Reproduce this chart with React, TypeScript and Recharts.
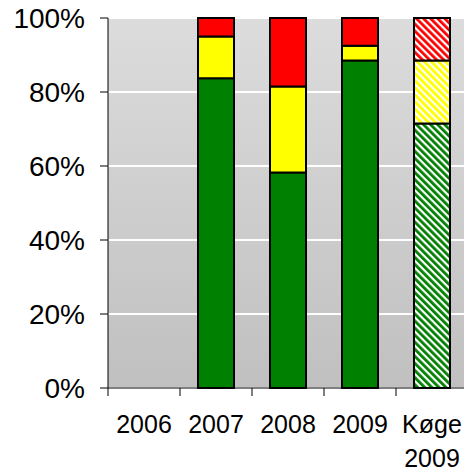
import { BarChart, Bar, Cell, XAxis, YAxis, CartesianGrid } from "recharts";

const kategorier = ["2006", "2007", "2008", "2009", "Køge\n2009"];
const groen = [0, 83.75, 58.25, 88.5, 71.5];
const gul = [0, 11.25, 23.25, 4, 17];
const roed = [0, 5, 18.5, 7.5, 11.5];
const yTicks = [0, 20, 40, 60, 80, 100];
const skraveret = [false, false, false, false, true];

const data = kategorier.map((navn, i) => ({
  navn,
  groen: groen[i],
  gul: gul[i],
  roed: roed[i],
}));

const FONT = "'Liberation Sans', Arial, sans-serif";

function XTick(props: any) {
  const { x, y, payload } = props;
  const linjer = String(payload.value).split("\n");
  return (
    <g>
      <line x1={x - 36} y1={y - 8} x2={x - 36} y2={y} stroke="#000" strokeWidth={1} />
      <text x={x} y={y + 37} textAnchor="middle" fontSize={25} fontFamily={FONT} fill="#000">
        {linjer.map((l, i) => (
          <tspan key={i} x={x} dy={i === 0 ? 0 : 34}>
            {l}
          </tspan>
        ))}
      </text>
    </g>
  );
}

function celler(farve: string, moenster: string) {
  return data.map((_, i) => <Cell key={i} fill={skraveret[i] ? moenster : farve} />);
}

function Skravering({ id, farve }: { id: string; farve: string }) {
  return (
    <pattern id={id} patternUnits="userSpaceOnUse" width={5} height={5} patternTransform="rotate(-45)">
      <rect width={5} height={5} fill="#ffffff" />
      <rect width={2.8} height={5} fill={farve} />
    </pattern>
  );
}

export default function App() {
  return (
    <div style={{ position: "fixed", top: 0, left: 0, width: 464, height: 472, overflow: "hidden", background: "#fff" }}>
      <BarChart
        width={480}
        height={472}
        data={data}
        margin={{ top: 18, right: 12, bottom: 0, left: 0 }}
        barSize={36}
      >
        <defs>
          <linearGradient id="bg" x1="0" y1="0" x2="0" y2="1">
            <stop offset="0%" stopColor="#dcdcdc" />
            <stop offset="100%" stopColor="#c0c0c0" />
          </linearGradient>
          <Skravering id="skr-groen" farve="#008000" />
          <Skravering id="skr-gul" farve="#ffff00" />
          <Skravering id="skr-roed" farve="#ff0000" />
        </defs>
        <CartesianGrid vertical={false} stroke="#ffffff" strokeWidth={2} fill="url(#bg)" fillOpacity={1} />
        <XAxis
          dataKey="navn"
          height={84}
          interval={0}
          tickLine={false}
          tickSize={8}
          tickMargin={0}
          axisLine={{ stroke: "#000" }}
          tick={<XTick />}
        />
        <YAxis
          width={108}
          domain={[0, 100]}
          ticks={yTicks}
          interval={0}
          tickFormatter={(v) => `${v}%`}
          tickSize={8}
          tickMargin={15}
          axisLine={{ stroke: "#000" }}
          tickLine={{ stroke: "#000" }}
          tick={{ fill: "#000", fontSize: 28, fontFamily: FONT }}
        />
        <Bar dataKey="groen" stackId="a" stroke="#000" strokeWidth={2} isAnimationActive={false}>
          {celler("#008000", "url(#skr-groen)")}
        </Bar>
        <Bar dataKey="gul" stackId="a" stroke="#000" strokeWidth={2} isAnimationActive={false}>
          {celler("#ffff00", "url(#skr-gul)")}
        </Bar>
        <Bar dataKey="roed" stackId="a" stroke="#000" strokeWidth={2} isAnimationActive={false}>
          {celler("#ff0000", "url(#skr-roed)")}
        </Bar>
      </BarChart>
    </div>
  );
}
